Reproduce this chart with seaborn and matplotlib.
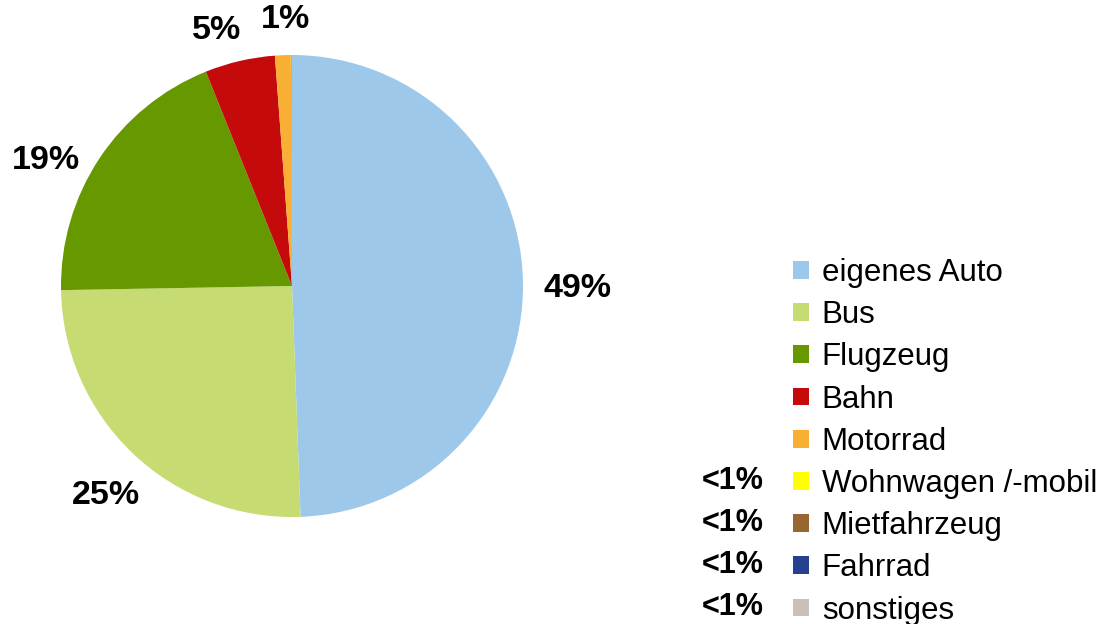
import numpy as np
import matplotlib
matplotlib.use("Agg")
import matplotlib.pyplot as plt
import seaborn as sns

# Data
modes = ["eigenes Auto", "Bus", "Flugzeug", "Bahn", "Motorrad",
         "Wohnwagen /-mobil", "Mietfahrzeug", "Fahrrad", "sonstiges"]
shares = [49.4, 25.3, 19.2, 4.9, 1.1, 0.02, 0.02, 0.02, 0.02]
pct_labels = ["49%", "25%", "19%", "5%", "1%"]
small_labels = ["<1%", "<1%", "<1%", "<1%"]
colors = ["#9DC8EA", "#C6DC72", "#669900", "#C40A0A", "#F9AE34",
          "#FFFF00", "#996633", "#263F8F", "#C9C1B8"]

sns.set_style("white")
plt.rcParams["font.family"] = ["Liberation Sans", "DejaVu Sans"]
plt.rcParams["text.color"] = "black"

fig = plt.figure(figsize=(11.01, 6.24), dpi=100)
W, H = 1101, 624
ax = fig.add_axes([61 / W, (H - 517) / H, 462 / W, 462 / H])

wedges, _ = ax.pie(shares, colors=colors, startangle=90, counterclock=False,
                   radius=1, wedgeprops=dict(linewidth=0))
ax.set_xlim(-1, 1)
ax.set_ylim(-1, 1)
ax.set_aspect("equal")
ax.axis("off")

# percentage labels around the pie
label_pos = [(1.238, -0.009), (-0.805, -0.905), (-1.067, 0.545),
             (-0.325, 1.108), (-0.026, 1.152)]
for txt, (x, y) in zip(pct_labels, label_pos):
    ax.text(x, y, txt, ha="center", va="center", fontsize=24.5,
            fontweight="bold", color="black")

# legend
fs = 22.5
leg = fig.legend(wedges, modes, loc="upper left",
                 bbox_to_anchor=(793 / W, 1 - 258 / H),
                 frameon=False, fontsize=fs, borderpad=0, borderaxespad=0,
                 handlelength=0.5, handleheight=0.5, handletextpad=0.42,
                 labelspacing=0.39)
for t in leg.get_texts():
    t.set_color("black")

row_y = [481, 523, 565, 607]
for txt, y in zip(small_labels, row_y):
    fig.text(764 / W, 1 - y / H, txt, ha="right", va="center",
             fontsize=22, fontweight="bold")

fig.savefig("out.png", dpi=100)
